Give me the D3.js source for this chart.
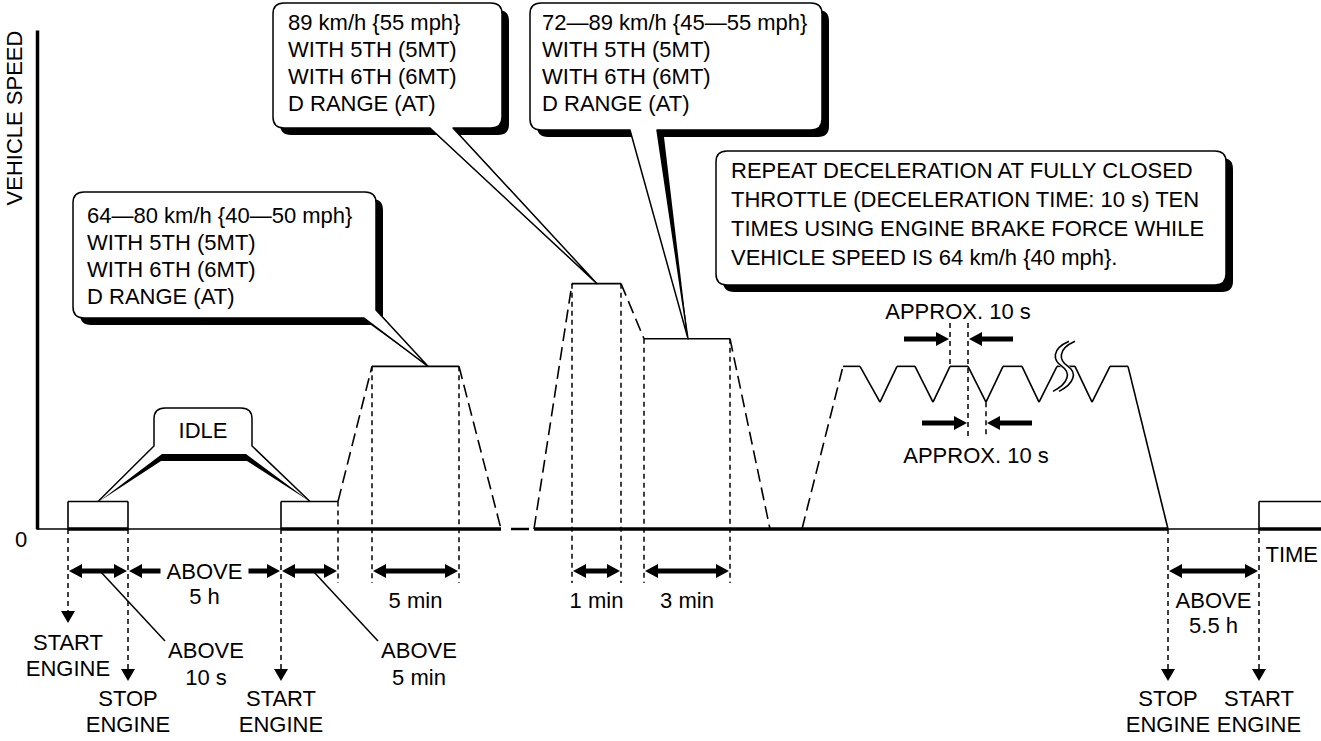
<!DOCTYPE html>
<html><head><meta charset="utf-8">
<script src="https://cdn.jsdelivr.net/npm/d3@7"></script>
<style>
body{margin:0;background:#fff}
svg{display:block}
text{font-family:"Liberation Sans",Arial,Helvetica,sans-serif;font-size:22px;fill:#000}
</style>
</head><body>
<svg id="c" width="1321" height="741"></svg>
<script>
// ================= DATA =================
// schematic time axis units, vehicle speed in km/h
const timeDomain  = [0, 128.3];
const speedDomain = [0, 181];

const idle1Times  = [3.0, 3.0, 9.0, 9.0];
const idle1Speeds = [0, 10, 10, 0];
const idle1Styles = ["solid", "solid", "solid"];

const idle2Times  = [24.3, 24.3, 30.0];
const idle2Speeds = [0, 10, 10];
const idle2Styles = ["solid", "solid"];

const cruise1Times  = [30.0, 33.4, 42.1, 46.3];
const cruise1Speeds = [10, 59, 59, 0];
const cruise1Styles = ["dash", "solid", "dash"];

const cruise2Times  = [49.6, 53.4, 58.3, 60.6, 69.2, 73.2];
const cruise2Speeds = [0, 89, 89, 69, 69, 0];
const cruise2Styles = ["dash", "solid", "dash", "solid", "dash"];

const decelTimes  = [76.4, 80.5, 82.2, 84.2, 85.9, 87.7, 89.5, 91.2, 93.0, 94.8, 96.5, 98.4, 100.1, 101.9, 103.7, 105.4, 107.2, 109.0, 113.0];
const decelSpeeds = [0, 59, 59, 46, 59, 59, 46, 59, 59, 46, 59, 59, 46, 59, 59, 46, 59, 59, 0];
const decelStyles = ["dash"].concat(d3.range(17).map(() => "solid"));

const idle3Times  = [122.1, 122.1, 128.3];
const idle3Speeds = [0, 10, 10];
const idle3Styles = ["solid", "solid"];

const baseThin  = [[0, 46.3], [49.6, 128.3]];
const baseThick = [[3.0, 9.0], [24.3, 46.3], [49.6, 113.0], [122.1, 128.3]];
const baseBreak = [47.3, 49.1];

const guideTimes  = [30.0, 33.4, 42.1, 53.4, 58.3, 60.6, 69.2];
const guideSpeeds = [10, 59, 59, 89, 89, 69, 69];

const eventTimes  = [3.0, 9.0, 24.3, 113.0, 122.1];
const eventTier   = [0, 1, 1, 1, 1];
const eventLabels = [["START","ENGINE"],["STOP","ENGINE"],["START","ENGINE"],["STOP","ENGINE"],["START","ENGINE"]];

const spanStarts = [3.0, 9.0, 24.3, 33.4, 53.4, 60.6, 113.0];
const spanEnds   = [9.0, 24.3, 30.0, 42.1, 58.3, 69.2, 122.1];
const spanLabels = [[], ["ABOVE","5 h"], [], ["5 min"], ["1 min"], ["3 min"], ["ABOVE","5.5 h"]];

const leaderTimes  = [6.2, 27.5];
const leaderLabels = [["ABOVE","10 s"], ["ABOVE","5 min"]];

const decelUpperTimes = [91.2, 93.0];
const decelLowerTimes = [93.0, 94.8];
const approxLabel = "APPROX. 10 s";

const calloutA = ["64—80 km/h {40—50 mph}", "WITH 5TH (5MT)", "WITH 6TH (6MT)", "D RANGE (AT)"];
const calloutB = ["89 km/h {55 mph}", "WITH 5TH (5MT)", "WITH 6TH (6MT)", "D RANGE (AT)"];
const calloutC = ["72—89 km/h {45—55 mph}", "WITH 5TH (5MT)", "WITH 6TH (6MT)", "D RANGE (AT)"];
const noteD = ["REPEAT DECELERATION AT FULLY CLOSED", "THROTTLE (DECELERATION TIME: 10 s) TEN", "TIMES USING ENGINE BRAKE FORCE WHILE", "VEHICLE SPEED IS 64 km/h {40 mph}."];
const tipA = [39.0, 59];
const tipB = [55.9, 89];
const tipC = [65.0, 69];
const idleTips = [[6.0, 10], [27.2, 10]];
const breakMark = [102.5, 59];

// ================= DRAW =================
const svg = d3.select("#c");
const x = d3.scaleLinear().domain(timeDomain).range([38, 1321]);
const y = d3.scaleLinear().domain(speedDomain).range([529, 30]);
const g = svg.append("g");

// y axis (vertical line only)
g.append("g").attr("transform", "translate(37,0)")
  .call(d3.axisLeft(y).tickValues([]).tickSizeOuter(0))
  .call(s => s.select(".domain").attr("stroke", "#000").attr("stroke-width", 3.5));

// baseline
baseThin.forEach(([a, b]) => g.append("line").attr("x1", a === 0 ? 37 : x(a)).attr("x2", x(b))
  .attr("y1", y(0)).attr("y2", y(0)).attr("stroke", "#000").attr("stroke-width", 1.5));
baseThick.forEach(([a, b]) => g.append("line").attr("x1", x(a)).attr("x2", x(b))
  .attr("y1", y(0)).attr("y2", y(0)).attr("stroke", "#000").attr("stroke-width", 3.5));
g.append("line").attr("x1", x(baseBreak[0])).attr("x2", x(baseBreak[1]))
  .attr("y1", y(0)).attr("y2", y(0)).attr("stroke", "#000").attr("stroke-width", 2.5);

const SPAN_Y = 571;
function guide(t, y1, y2) {
  g.append("line").attr("x1", x(t)).attr("x2", x(t)).attr("y1", y1).attr("y2", y2)
    .attr("stroke", "#000").attr("stroke-width", 1.5).attr("stroke-dasharray", "5,4");
}
guideTimes.forEach((t, i) => guide(t, y(guideSpeeds[i]), 583));

// events (start/stop engine)
eventTimes.forEach((t, i) => {
  const tip = eventTier[i] === 0 ? 623 : 681;
  const xx = x(t);
  guide(t, y(0), tip - 11);
  g.append("path").attr("d", `M${xx-7},${tip-12}L${xx+7},${tip-12}L${xx},${tip}Z`).attr("fill", "#000");
  const b0 = eventTier[i] === 0 ? 650 : 706;
  eventLabels[i].forEach((s, k) => g.append("text").attr("x", xx).attr("y", b0 + k * 26)
    .attr("text-anchor", "middle").text(s));
});

// arrows
function head(tipX, yy, dir) { // dir +1 points right, -1 left
  g.append("path").attr("d", `M${tipX},${yy}L${tipX - dir*13},${yy-7}L${tipX - dir*13},${yy+7}Z`).attr("fill", "#000");
}
function shaft(x1, x2, yy) {
  g.append("line").attr("x1", x1).attr("x2", x2).attr("y1", yy).attr("y2", yy)
    .attr("stroke", "#000").attr("stroke-width", 5);
}
spanStarts.forEach((t0, i) => {
  const a = x(t0) + 1, b = x(spanEnds[i]) - 1, lab = spanLabels[i];
  head(a, SPAN_Y, -1); head(b, SPAN_Y, 1);
  if (i === 1) {
    const c = (a + b) / 2;
    shaft(a + 10, c - 44, SPAN_Y); shaft(c + 44, b - 10, SPAN_Y);
    g.append("text").attr("x", c).attr("y", 579).attr("text-anchor", "middle").text(lab[0]);
    g.append("text").attr("x", c).attr("y", 604).attr("text-anchor", "middle").text(lab[1]);
  } else {
    shaft(a + 10, b - 10, SPAN_Y);
    lab.forEach((s, k) => g.append("text").attr("x", (a + b) / 2).attr("y", 608 + k * 25)
      .attr("text-anchor", "middle").text(s));
  }
});

// leaders
leaderTimes.forEach((t, i) => {
  const x0 = x(t), x1 = x0 + 65, y1 = 641;
  g.append("line").attr("x1", x0).attr("y1", SPAN_Y).attr("x2", x1).attr("y2", y1)
    .attr("stroke", "#000").attr("stroke-width", 1.5);
  leaderLabels[i].forEach((s, k) => g.append("text").attr("x", x1 + 41).attr("y", 658 + k * 27)
    .attr("text-anchor", "middle").text(s));
});

// deceleration markers
const [u0, u1] = decelUpperTimes, [l0, l1] = decelLowerTimes;
guide(u0, 323, y(59)); guide(u1, 323, 437); guide(l1, y(46), 437);
shaft(x(u0) - 46, x(u0) - 10, 339); head(x(u0) - 1, 339, 1);
shaft(x(u1) + 10, x(u1) + 45, 339); head(x(u1) + 1, 339, -1);
shaft(x(l0) - 46, x(l0) - 10, 423); head(x(l0) - 1, 423, 1);
shaft(x(l1) + 10, x(l1) + 46, 423); head(x(l1) + 1, 423, -1);
g.append("text").attr("x", (x(u0) + x(u1)) / 2 - 1).attr("y", 319).attr("text-anchor", "middle").text(approxLabel);
g.append("text").attr("x", (x(l0) + x(l1)) / 2 - 1).attr("y", 463).attr("text-anchor", "middle").text(approxLabel);

// callouts
function calloutPath(bx, by, w, h, r, ptr, off) {
  const X = bx + off, Y = by + off;
  let p = `M${X+r},${Y}H${X+w-r}Q${X+w},${Y} ${X+w},${Y+r}`;
  if (ptr && ptr.rightUp !== undefined) {
    p += `V${Y+h-ptr.rightUp}L${ptr.tx},${ptr.ty}L${ptr.b1+off},${Y+h}`;
  } else {
    p += `V${Y+h-r}Q${X+w},${Y+h} ${X+w-r},${Y+h}`;
    if (ptr) p += `H${ptr.b2+off}L${ptr.tx},${ptr.ty}L${ptr.b1+off},${Y+h}`;
  }
  p += `H${X+r}Q${X},${Y+h} ${X},${Y+h-r}V${Y+r}Q${X},${Y} ${X+r},${Y}Z`;
  return p;
}
function callout(bx, by, w, h, ptr, lines, tx, base0, lh) {
  const off = 7, r = 11;
  g.append("path").attr("d", calloutPath(bx, by, w, h, r, ptr, off)).attr("fill", "#000");
  g.append("path").attr("d", calloutPath(bx, by, w, h, r, ptr, 0)).attr("fill", "#fff")
    .attr("stroke", "#000").attr("stroke-width", 1.5).attr("stroke-linejoin", "round");
  lines.forEach((s, k) => g.append("text").attr("x", tx).attr("y", base0 + k * lh).text(s));
}
callout(73, 192, 303, 126, {b1: 364, rightUp: 8, tx: x(tipA[0]), ty: y(tipA[1])}, calloutA, 87, 223, 27);
callout(273, 3, 229, 125, {b1: 430, b2: 453, tx: x(tipB[0]), ty: y(tipB[1])}, calloutB, 288, 30, 27);
callout(530, 3, 292, 127, {b1: 630, b2: 657, tx: x(tipC[0]), ty: y(tipC[1])}, calloutC, 542, 30, 27);
callout(716, 151, 510, 134, null, noteD, 731, 178, 29);

// IDLE callout
const ia = [x(idleTips[0][0]), y(idleTips[0][1])], ib = [x(idleTips[1][0]), y(idleTips[1][1])];
g.append("path").attr("d",
  `M${ia[0]+1},${ia[1]}L162,454H246L${ib[0]},${ib[1]}L247,461H161Z`).attr("fill", "#000");
g.append("path").attr("d",
  `M${ia[0]},${ia[1]}L154,446V419Q154,408 165,408H241Q252,408 252,419V446L${ib[0]},${ib[1]}`)
  .attr("fill", "none").attr("stroke", "#000").attr("stroke-width", 1.5);
g.append("text").attr("x", 203).attr("y", 438).attr("text-anchor", "middle").text("IDLE");

// speed profile
function run(times, speeds, styles) {
  for (let i = 0; i < times.length - 1; i++) {
    const l = g.append("line").attr("x1", x(times[i])).attr("y1", y(speeds[i]))
      .attr("x2", x(times[i+1])).attr("y2", y(speeds[i+1]))
      .attr("stroke", "#000").attr("stroke-width", 1.6);
    if (styles[i] === "dash") l.attr("stroke-dasharray", "13,6");
  }
}
run(idle1Times, idle1Speeds, idle1Styles);
run(idle2Times, idle2Speeds, idle2Styles);
run(cruise1Times, cruise1Speeds, cruise1Styles);
run(cruise2Times, cruise2Speeds, cruise2Styles);
run(decelTimes, decelSpeeds, decelStyles);
run(idle3Times, idle3Speeds, idle3Styles);

// break mark
const bx = x(breakMark[0]), by = y(breakMark[1]);
const sPath = dx => `M${bx+9+dx},${by-25}C${bx-9+dx},${by-17} ${bx-7+dx},${by-6} ${bx+2+dx},${by}C${bx+11+dx},${by+6} ${bx+9+dx},${by+17} ${bx-7+dx},${by+25}`;
g.append("path").attr("d", sPath(0)).attr("fill", "none").attr("stroke", "#fff").attr("stroke-width", 6);
g.append("path").attr("d", sPath(-3)).attr("fill", "none").attr("stroke", "#000").attr("stroke-width", 1.6);
g.append("path").attr("d", sPath(3)).attr("fill", "none").attr("stroke", "#000").attr("stroke-width", 1.6);

// axis labels
g.append("text").attr("x", 21).attr("y", 547).attr("text-anchor", "middle").text("0");
g.append("text").attr("x", 1318).attr("y", 562).attr("text-anchor", "end").text("TIME");
g.append("text").attr("transform", "translate(22,118) rotate(-90)").attr("text-anchor", "middle").text("VEHICLE SPEED");
</script>
</body></html>
